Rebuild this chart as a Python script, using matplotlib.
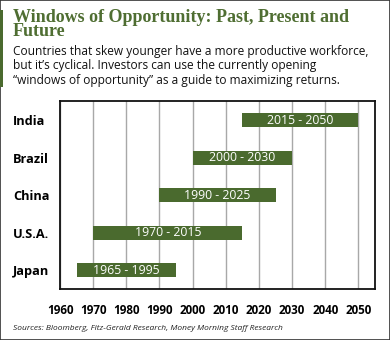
import matplotlib.pyplot as plt
from matplotlib.patches import Rectangle

# Data
countries = ["India", "Brazil", "China", "U.S.A.", "Japan"]
starts = [2015, 2000, 1990, 1970, 1965]
ends = [2050, 2030, 2025, 2015, 1995]
years = [1960, 1970, 1980, 1990, 2000, 2010, 2020, 2030, 2040, 2050]

green = "#4a6a2e"
title_green = "#4f6e32"

W, H = 390, 340
fig = plt.figure(figsize=(W / 100, H / 100), dpi=100)

# outer frame and left accent
fig.patches.append(Rectangle((0, 0), 1, 1, transform=fig.transFigure,
                             fill=False, edgecolor="#333333", linewidth=1.2))
fig.patches.append(Rectangle((0, 1 - 87 / H), 3 / W, 77 / H, transform=fig.transFigure,
                             facecolor="#4a6a2e", edgecolor="none"))

fig.text(13 / W, 1 - 21.5 / H, "Windows of Opportunity: Past, Present and",
         fontfamily="Liberation Serif", fontweight="bold", fontsize=13.0,
         color=title_green, va="baseline")
fig.text(13 / W, 1 - 36.5 / H, "Future",
         fontfamily="Liberation Serif", fontweight="bold", fontsize=13.0,
         color=title_green, va="baseline")
subtitle = ["Countries that skew younger have a more productive workforce,",
            "but it\u2019s cyclical. Investors can use the currently opening",
            "\u201cwindows of opportunity\u201d as a guide to maximizing returns."]
for i, line in enumerate(subtitle):
    fig.text(13 / W, 1 - (54.5 + i * 14.7) / H, line, fontfamily="Open Sans",
             fontsize=8.6, color="#111111", va="baseline")

ax = fig.add_axes([60 / W, 1 - 289 / H, 315 / W, 187.5 / H])
ypos = list(range(len(countries)))[::-1]
ax.barh(ypos, [e - s for s, e in zip(starts, ends)], left=starts,
        height=0.38, color=green, zorder=3)
for y, s, e in zip(ypos, starts, ends):
    ax.text((s + e) / 2, y, f"{s} - {e}", ha="center", va="center",
            color="white", fontsize=8.8, fontfamily="Open Sans", zorder=4)

ax.set_xlim(1960.6, 2055)
ax.set_ylim(-0.5, 4.5)
ax.set_xticks(years)
ax.set_xticklabels([str(y) for y in years], fontweight="bold",
                   fontfamily="Open Sans", fontsize=8.4)
ax.set_yticks(ypos)
ax.set_yticklabels(countries, fontweight="bold", fontfamily="Open Sans",
                   fontsize=9.2, ha="left")
ax.tick_params(axis="y", length=0, pad=34)
ax.tick_params(axis="x", length=0, pad=11)
ax.grid(axis="x", color="#a8a8a8", linewidth=1, zorder=0)
for sp in ax.spines.values():
    sp.set_linewidth(1.3)
    sp.set_color("#111111")

fig.text(13 / W, 1 - 329.5 / H,
         "Sources: Bloomberg, Fitz-Gerald Research, Money Morning Staff Research",
         fontfamily="Open Sans", fontstyle="italic", fontsize=6.0,
         color="#222222", va="baseline")

fig.savefig("out.png", dpi=100)
